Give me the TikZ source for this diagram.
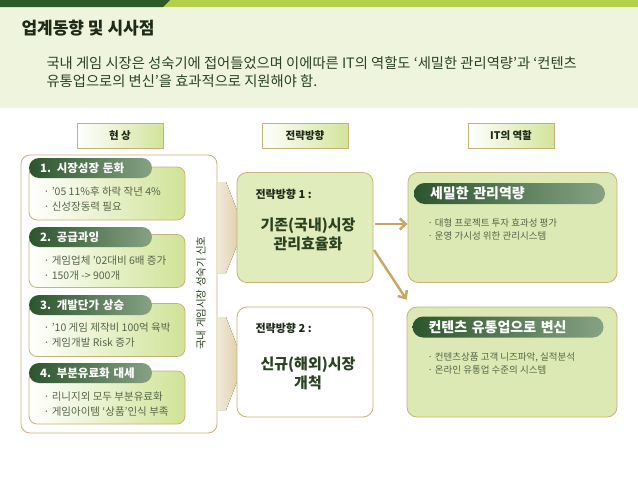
\documentclass[tikz,border=0pt]{standalone}
\usepackage{fontspec}
\setmainfont{Noto Sans CJK KR}
\usetikzlibrary{arrows.meta,positioning}

\definecolor{bandbg}{HTML}{EEF5DC}
\definecolor{bardark}{HTML}{2E5A2A}
\definecolor{barlight}{HTML}{B3D04A}
\definecolor{boxtan}{HTML}{C9B27C}
\definecolor{hdrgreen}{HTML}{D3E49A}
\definecolor{subgreen}{HTML}{D0E396}
\definecolor{pilldark}{HTML}{2C552D}
\definecolor{pilllight}{HTML}{86A283}
\definecolor{stratgreen}{HTML}{E0ECBB}
\definecolor{rolegreen}{HTML}{DDE9B4}
\definecolor{chevtan}{HTML}{DCC89E}
\definecolor{arrowtan}{HTML}{C8A865}
\definecolor{txtdark}{HTML}{1E2A18}
\definecolor{txtgreen}{HTML}{2A4220}
\definecolor{txtbullet}{HTML}{56654A}

\begin{document}
\begin{tikzpicture}[x=1pt,y=-1pt,
    hdrbox/.style={draw=boxtan, line width=0.8pt, left color=white, right color=hdrgreen,
      minimum width=86pt, minimum height=25pt, inner sep=0pt,
      font=\fontsize{10.5}{12}\selectfont\bfseries, text=txtdark},
    subbox/.style={draw=boxtan, line width=0.8pt, rounded corners=8pt,
      left color=white, right color=subgreen, minimum width=156pt, minimum height=53pt},
    pill/.style={rounded corners=10pt, left color=pilldark, right color=pilllight,
      minimum height=20pt, inner xsep=11pt, inner ysep=0pt, text width=101pt, align=left,
      font=\fontsize{11.5}{12}\selectfont\bfseries, text=white},
    rolepill/.style={pill, rounded corners=10.5pt, minimum height=21pt, inner xsep=16pt,
      text width=159pt, font=\fontsize{14}{15}\selectfont\bfseries},
    bullets/.style={anchor=west, align=left, text=txtbullet,
      font=\fontsize{10.5}{15}\selectfont},
    rolebullets/.style={bullets, font=\fontsize{9.5}{13.5}\selectfont},
    stratbox/.style={draw=boxtan, line width=0.8pt, rounded corners=10pt,
      minimum width=136pt, minimum height=110pt},
    stratlabel/.style={anchor=west, text=txtdark, font=\fontsize{11}{12}\selectfont\bfseries},
    strattext/.style={align=center, text=txtgreen, font=\fontsize{15}{19}\selectfont\bfseries},
    chev/.style={left color=white!60!chevtan, right color=chevtan},
    tanarrow/.style={draw=arrowtan, line width=2.5pt, -{Straight Barb[length=6pt,width=11pt]}}
  ]
  \useasboundingbox (0,0) rectangle (638,479);
  % top band
  \fill[bandbg] (0,0) rectangle (638,108);
  \fill[barlight] (0,0) rectangle (638,7);
  \fill[bardark] (0,0) -- (170,0) -- (163,7) -- (0,7) -- cycle;

  \node[anchor=west, text=txtdark, font=\fontsize{17}{20}\selectfont\bfseries]
    (title) at (18,28) {업계동향 및 시사점};
  \node[anchor=west, align=left, text=txtgreen, font=\fontsize{14.3}{18}\selectfont]
    (summary) at (43,71.7) {국내 게임 시장은 성숙기에 접어들었으며 이에따른 IT의 역할도 ‘세밀한 관리역량’과 ‘컨텐츠\\
    유통업으로의 변신’을 효과적으로 지원해야 함.};

  % column headers
  \node[hdrbox] (hdrNow) at (120,135.5) {현 상};
  \node[hdrbox] (hdrStrat) at (305,135.5) {전략방향};
  \node[hdrbox] (hdrIT) at (511,135.5) {IT의 역할};

  % current situation
  \node[draw=boxtan, line width=0.8pt, rounded corners=9pt, fill=white,
    minimum width=196pt, minimum height=278pt] (now) at (119,294) {};

  \node[subbox] (sub1) at (107,193.5) {};
  \node[pill] (pill1) at (90.5,168) {1. 시장성장 둔화};
  \node[bullets] (txt1) at (40,199.5) {· ’05 11\%후 하락 작년 4\%\\· 신성장동력 필요};

  \node[subbox] (sub2) at (107,261) {};
  \node[pill] (pill2) at (90.5,237) {2. 공급과잉};
  \node[bullets] (txt2) at (40,268) {· 게임업체 ’02대비 6배 증가\\· 150개 -> 900개};

  \node[subbox] (sub3) at (107,330) {};
  \node[pill] (pill3) at (90.5,305) {3. 개발단가 상승};
  \node[bullets] (txt3) at (40,335.5) {· ’10 게임 제작비 100억 육박\\· 게임개발 Risk 증가};

  \node[subbox] (sub4) at (107,397.5) {};
  \node[pill] (pill4) at (90.5,373) {4. 부분유료화 대세};
  \node[bullets] (txt4) at (40,404.5) {· 리니지외 모두 부분유료화\\· 게임아이템 ‘상품’인식 부족};

  \node[rotate=90, text=txtgreen, font=\fontsize{10.5}{12}\selectfont] (signal) at (201,293)
    {국내 게임시장 성숙기 신호};

  % chevrons
  \fill[chev] (218,182) -- (226,182) -- (244,228) -- (226,273) -- (218,273) -- cycle;
  \fill[chev] (218,317) -- (226,317) -- (244,364) -- (226,410) -- (218,410) -- cycle;

  % strategy
  \node[stratbox, fill=stratgreen] (strat1) at (305,227.5) {};
  \node[stratlabel] (lab1) at (252,194) {전략방향 1 :};
  \node[strattext] (main1) at (308,234.5) {기존(국내)시장\\관리효율화};

  \node[stratbox, fill=white] (strat2) at (305,362) {};
  \node[stratlabel] (lab2) at (252,328) {전략방향 2 :};
  \node[strattext] (main2) at (308,373) {신규(해외)시장\\개척};

  % role of IT
  \node[stratbox, fill=rolegreen, minimum width=209pt] (role1) at (512.5,227.5) {};
  \node[rolepill] (rpill1) at (509.5,193.5) {세밀한 관리역량};
  \node[rolebullets] (rtxt1) at (424,229.5) {· 대형 프로젝트 투자 효과성 평가\\· 운영 가시성 위한 관리시스템};

  \node[stratbox, fill=rolegreen, minimum width=210pt] (role2) at (512,362) {};
  \node[rolepill] (rpill2) at (508,327) {컨텐츠 유통업으로 변신};
  \node[rolebullets] (rtxt2) at (424,363.5) {· 컨텐츠상품 고객 니즈파악, 실적분석\\· 온라인 유통업 수준의 시스템};

  % arrows
  \coordinate (a1s) at (375,224);
  \coordinate (a2s) at (374,250);
  \draw[tanarrow] (a1s) -- (role1.west |- a1s);
  \draw[tanarrow] (a2s) -- ([yshift=7pt]role2.north west);
\end{tikzpicture}
\end{document}
